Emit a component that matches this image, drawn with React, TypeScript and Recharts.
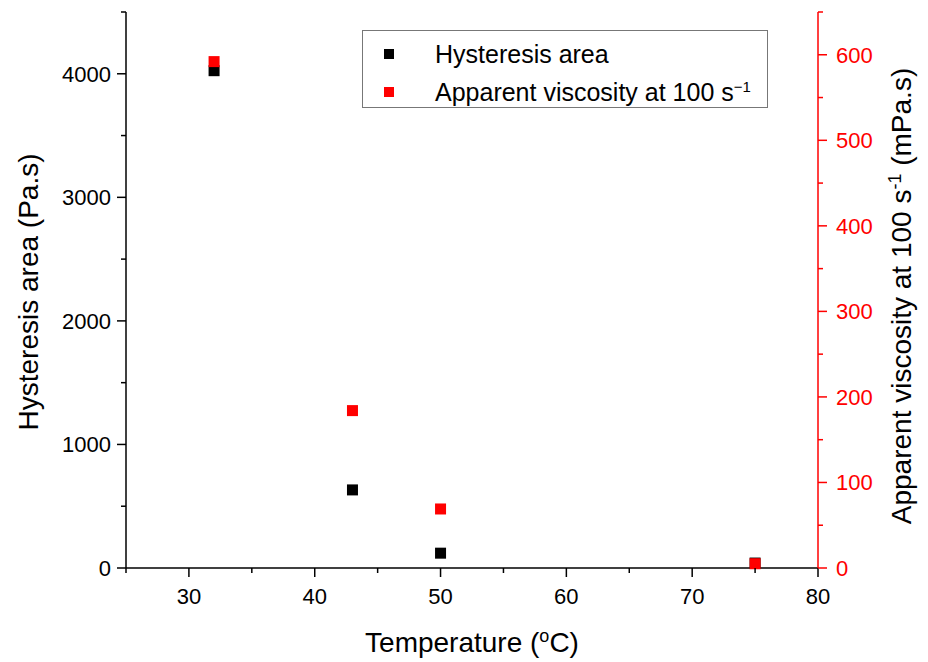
import { ScatterChart, Scatter, XAxis, YAxis, Label } from "recharts";

const temperatures = [32, 43, 50, 75];
const hysteresisArea = [4025, 632, 120, 40];
const apparentViscosity = [592, 184, 69, 5];

const xTicks = [25, 30, 35, 40, 45, 50, 55, 60, 65, 70, 75, 80];
const leftTicks = [0, 500, 1000, 1500, 2000, 2500, 3000, 3500, 4000, 4500];
const rightTicks = [0, 50, 100, 150, 200, 250, 300, 350, 400, 450, 500, 550, 600, 650];

const hysteresisData = temperatures.map((t, i) => ({ x: t, y: hysteresisArea[i] }));
const viscosityData = temperatures.map((t, i) => ({ x: t, y: apparentViscosity[i] }));

const FONT = "'Liberation Sans', Arial, sans-serif";
const RED = "#ff0000";
const TICK_FONT = 22;
const TITLE_FONT = 28;

function square(color: string) {
  return (props: any) => (
    <rect x={props.cx - 5.5} y={props.cy - 5.5} width={11} height={11} fill={color} />
  );
}

function BottomTick(props: any) {
  const { x, y, payload } = props;
  const major = payload.value % 10 === 0;
  return (
    <g>
      <line x1={x} x2={x} y1={y} y2={y + (major ? 9 : 5)} stroke="#000" strokeWidth={1.5} />
      {major && (
        <text x={x} y={y + 36} textAnchor="middle" fontSize={TICK_FONT} fontFamily={FONT} fill="#000">
          {payload.value}
        </text>
      )}
    </g>
  );
}

function LeftTick(props: any) {
  const { x, y, payload } = props;
  const major = payload.value % 1000 === 0;
  return (
    <g>
      <line x1={x} x2={x - (major ? 9 : 5)} y1={y} y2={y} stroke="#000" strokeWidth={1.5} />
      {major && (
        <text x={x - 15} y={y + 8} textAnchor="end" fontSize={TICK_FONT} fontFamily={FONT} fill="#000">
          {payload.value}
        </text>
      )}
    </g>
  );
}

function RightTick(props: any) {
  const { x, y, payload } = props;
  const major = payload.value % 100 === 0;
  return (
    <g>
      <line x1={x} x2={x + (major ? 9 : 5)} y1={y} y2={y} stroke={RED} strokeWidth={1.5} />
      {major && (
        <text x={x + 18} y={y + 8} textAnchor="start" fontSize={TICK_FONT} fontFamily={FONT} fill={RED}>
          {payload.value}
        </text>
      )}
    </g>
  );
}

function LegendBox() {
  const row = (color: string, text: any, top: number) => (
    <div style={{ position: "absolute", left: 0, top, display: "flex", alignItems: "center", whiteSpace: "nowrap" }}>
      <div style={{ width: 10, height: 10, background: color, marginLeft: 21, marginRight: 41 }} />
      <span style={{ fontSize: 25, fontFamily: FONT, color: "#000", lineHeight: "30px" }}>{text}</span>
    </div>
  );
  return (
    <div
      style={{
        position: "absolute",
        left: 362,
        top: 30,
        width: 404,
        height: 76,
        border: "1px solid #777",
        background: "#fff",
      }}
    >
      {row("#000", "Hysteresis area", 8)}
      {row(
        RED,
        <>
          Apparent viscosity at 100 s
          <sup style={{ fontSize: 15, verticalAlign: "9px", lineHeight: 0 }}>−1</sup>
        </>,
        46
      )}
    </div>
  );
}

export default function App() {
  return (
    <div style={{ position: "absolute", left: 0, top: 0, width: 928, height: 662, background: "#fff" }}>
      <ScatterChart width={928} height={662} margin={{ top: 12, right: 50, bottom: 0, left: 66 }}>
        <XAxis
          type="number"
          dataKey="x"
          domain={[25, 80]}
          ticks={xTicks}
          interval={0}
          allowDataOverflow
          tickLine={false}
          tickSize={0}
          tickMargin={0}
          tick={BottomTick}
          axisLine={{ stroke: "#000", strokeWidth: 1.5 }}
          height={94}
        >
          <Label
            content={() => (
              <text x={472} y={652} textAnchor="middle" fontSize={TITLE_FONT} fontFamily={FONT} fill="#000">
                Temperature (
                <tspan dy={-10} fontSize={18}>o</tspan>
                <tspan dy={10}>C)</tspan>
              </text>
            )}
          />
        </XAxis>
        <YAxis
          yAxisId="left"
          type="number"
          dataKey="y"
          domain={[0, 4500]}
          ticks={leftTicks}
          interval={0}
          tickLine={false}
          tickSize={0}
          tickMargin={0}
          tick={LeftTick}
          axisLine={{ stroke: "#000", strokeWidth: 1.5 }}
          width={60}
        >
          <Label
            content={() => (
              <text
                x={0}
                y={0}
                transform="translate(38 292) rotate(-90)"
                textAnchor="middle"
                fontSize={TITLE_FONT}
                fontFamily={FONT}
                fill="#000"
              >
                Hysteresis area (Pa.s)
              </text>
            )}
          />
        </YAxis>
        <YAxis
          yAxisId="right"
          orientation="right"
          type="number"
          dataKey="y"
          domain={[0, 650]}
          ticks={rightTicks}
          interval={0}
          tickLine={false}
          tickSize={0}
          tickMargin={0}
          tick={RightTick}
          axisLine={{ stroke: RED, strokeWidth: 1.5 }}
          width={60}
        >
          <Label
            content={() => (
              <text
                x={0}
                y={0}
                transform="translate(911 296) rotate(-90)"
                textAnchor="middle"
                fontSize={TITLE_FONT}
                fontFamily={FONT}
                fill="#000"
              >
                Apparent viscosity at 100 s
                <tspan dy={-10} fontSize={18}>-1</tspan>
                <tspan dy={10}> (mPa.s)</tspan>
              </text>
            )}
          />
        </YAxis>
        <Scatter
          yAxisId="left"
          name="Hysteresis area"
          data={hysteresisData}
          fill="#000"
          shape={square("#000")}
          isAnimationActive={false}
        />
        <Scatter
          yAxisId="right"
          name="Apparent viscosity at 100 s-1"
          data={viscosityData}
          fill={RED}
          shape={square(RED)}
          isAnimationActive={false}
        />
      </ScatterChart>
      <LegendBox />
    </div>
  );
}
